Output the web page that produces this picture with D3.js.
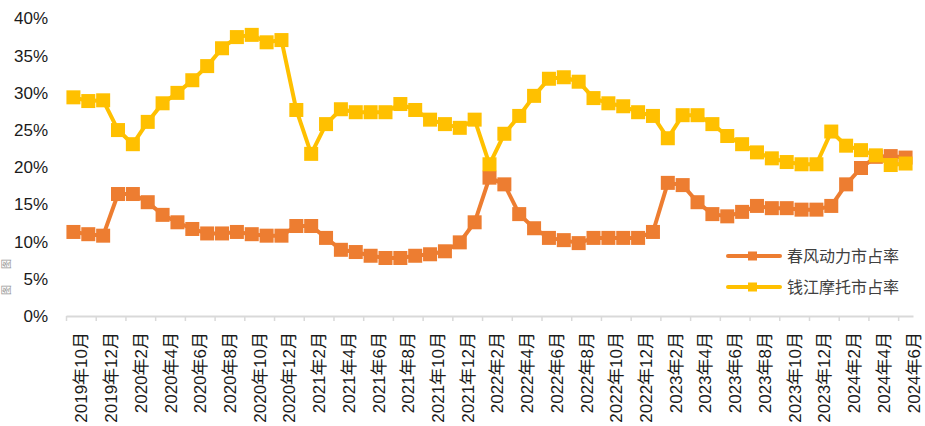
<!DOCTYPE html>
<html>
<head>
<meta charset="utf-8">
<script src="https://cdn.jsdelivr.net/npm/d3@7"></script>
<style>
  html, body { margin: 0; padding: 0; background: #fff; }
  svg text { font-family: "Liberation Sans", Arial, "Noto Sans CJK SC", sans-serif; }
</style>
</head>
<body>
<div id="chart"></div>
<script>
var months = [
  "2019年10月","2019年11月","2019年12月",
  "2020年1月","2020年2月","2020年3月","2020年4月","2020年5月","2020年6月",
  "2020年7月","2020年8月","2020年9月","2020年10月","2020年11月","2020年12月",
  "2021年1月","2021年2月","2021年3月","2021年4月","2021年5月","2021年6月",
  "2021年7月","2021年8月","2021年9月","2021年10月","2021年11月","2021年12月",
  "2022年1月","2022年2月","2022年3月","2022年4月","2022年5月","2022年6月",
  "2022年7月","2022年8月","2022年9月","2022年10月","2022年11月","2022年12月",
  "2023年1月","2023年2月","2023年3月","2023年4月","2023年5月","2023年6月",
  "2023年7月","2023年8月","2023年9月","2023年10月","2023年11月","2023年12月",
  "2024年1月","2024年2月","2024年3月","2024年4月","2024年5月","2024年6月"
];

// 春风动力市占率 (%)
var cfShare = [
  11.3, 11.0, 10.8, 16.4, 16.4, 15.3, 13.6, 12.6, 11.7, 11.1, 11.1, 11.3,
  11.0, 10.8, 10.8, 12.1, 12.1, 10.5, 8.9, 8.6, 8.1, 7.8, 7.8, 8.1,
  8.3, 8.7, 9.9, 12.6, 18.6, 17.7, 13.7, 11.8, 10.5, 10.2, 9.8, 10.5,
  10.5, 10.5, 10.5, 11.3, 17.9, 17.6, 15.3, 13.7, 13.4, 14.0, 14.8, 14.5,
  14.5, 14.3, 14.3, 14.8, 17.7, 19.9, 21.4, 21.5, 21.3
];
// 钱江摩托市占率 (%)
var qjShare = [
  29.4, 28.9, 29.0, 25.0, 23.1, 26.1, 28.6, 30.0, 31.7, 33.6, 36.0, 37.5,
  37.8, 36.8, 37.1, 27.7, 21.8, 25.8, 27.8, 27.4, 27.4, 27.4, 28.5, 27.7,
  26.4, 25.8, 25.3, 26.4, 20.4, 24.5, 26.9, 29.6, 31.9, 32.1, 31.5, 29.3,
  28.6, 28.2, 27.4, 26.9, 23.9, 27.0, 27.0, 25.8, 24.2, 23.1, 22.0, 21.2,
  20.7, 20.4, 20.4, 24.8, 22.9, 22.3, 21.6, 20.3, 20.5
];

var seriesNames = ["春风动力市占率", "钱江摩托市占率"];
var seriesColors = ["#ED7D31", "#FFC000"];
var yTicks = [0, 5, 10, 15, 20, 25, 30, 35, 40];

var W = 925, H = 426;
var plot = { l: 66, r: 913, t: 18.5, b: 316 };

var svg = d3.select("#chart").append("svg")
  .attr("width", W)
  .attr("height", H);

var x = d3.scaleLinear()
  .domain([0, months.length])
  .range([plot.l, plot.r]);

var y = d3.scaleLinear()
  .domain([0, 40])
  .range([plot.b, plot.t]);

// y labels (no gridlines, no axis line)
var yAxis = d3.axisLeft(y)
  .tickValues(yTicks)
  .tickSize(0)
  .tickPadding(0)
  .tickFormat(d => d + "%");

svg.append("g")
  .attr("transform", "translate(48,0)")
  .call(yAxis)
  .call(g => g.select(".domain").remove())
  .call(g => g.selectAll("text")
    .attr("font-size", 17)
    .attr("fill", "#1a1a1a")
    .attr("font-family", "'Liberation Sans', Arial, sans-serif"));

// x axis line + ticks every 2 months at category boundaries
var xAxis = d3.axisBottom(x)
  .tickValues(d3.range(0, months.length, 2))
  .tickSize(5)
  .tickSizeOuter(0)
  .tickFormat("");

svg.append("g")
  .attr("transform", "translate(0," + plot.b + ")")
  .call(xAxis)
  .call(g => g.select(".domain").attr("stroke", "#d9d9d9").attr("stroke-width", 2))
  .call(g => g.selectAll(".tick line").attr("stroke", "#d9d9d9").attr("stroke-width", 1.5));

// rotated month labels
svg.append("g")
  .selectAll("text")
  .data(months.filter((d, i) => i % 2 === 0))
  .enter()
  .append("text")
  .attr("transform", (d, k) => "translate(" + (x(k * 2 + 0.5) + 8) + "," + (plot.b + 16) + ") rotate(-90)")
  .attr("text-anchor", "end")
  .attr("dy", "0.35em")
  .attr("font-size", 17)
  .attr("fill", "#1a1a1a")
  .text(d => d);

// series
var line = d3.line()
  .x((d, i) => x(i + 0.5))
  .y(d => y(d));

[cfShare, qjShare].forEach(function (vals, s) {
  var g = svg.append("g");
  g.append("path")
    .attr("d", line(vals))
    .attr("fill", "none")
    .attr("stroke", seriesColors[s])
    .attr("stroke-width", 4)
    .attr("stroke-linejoin", "round");
  g.selectAll("rect")
    .data(vals)
    .enter()
    .append("rect")
    .attr("x", (d, i) => x(i + 0.5) - 7)
    .attr("y", d => y(d) - 7)
    .attr("width", 14)
    .attr("height", 14)
    .attr("fill", seriesColors[s]);
});

// legend
var legend = svg.append("g")
  .selectAll("g")
  .data(seriesNames)
  .enter()
  .append("g")
  .attr("transform", (d, i) => "translate(728," + (256 + i * 31) + ")");

legend.append("line")
  .attr("x1", 0).attr("x2", 52)
  .attr("stroke", (d, i) => seriesColors[i])
  .attr("stroke-width", 4)
  .attr("stroke-linecap", "round");
legend.append("rect")
  .attr("x", 20).attr("y", -4.5)
  .attr("width", 9).attr("height", 9)
  .attr("fill", (d, i) => seriesColors[i]);
legend.append("text")
  .attr("x", 59)
  .attr("dy", "0.35em")
  .attr("font-size", 16)
  .attr("fill", "#404040")
  .text(d => d);

// small watermark glyphs at left edge
svg.append("g")
  .selectAll("text")
  .data([264, 290])
  .enter()
  .append("text")
  .attr("transform", d => "translate(6," + d + ") rotate(-90)")
  .attr("text-anchor", "middle")
  .attr("dy", "0.35em")
  .attr("font-size", 10)
  .attr("fill", "#999")
  .text("图");
</script>
</body>
</html>
